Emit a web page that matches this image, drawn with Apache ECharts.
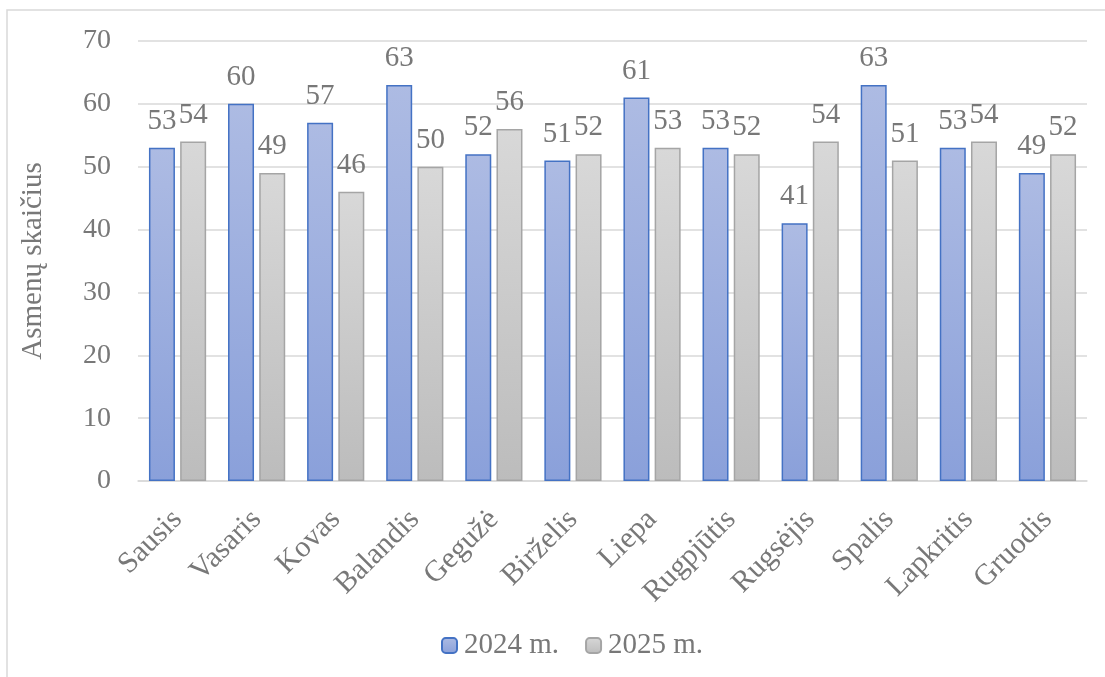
<!DOCTYPE html>
<html><head><meta charset="utf-8">
<script src="https://cdn.jsdelivr.net/npm/echarts@6/dist/echarts.min.js"></script>
<style>html,body{margin:0;padding:0;background:#fff}#c{width:1105px;height:677px}</style>
</head><body><div id="c"></div>
<script>
const categories = ['Sausis','Vasaris','Kovas','Balandis','Gegužė','Birželis','Liepa','Rugpjūtis','Rugsėjis','Spalis','Lapkritis','Gruodis'];
const seriesNames = ['2024 m.','2025 m.'];
const values2024 = [53,60,57,63,52,51,61,53,41,63,53,49];
const values2025 = [54,49,46,50,56,52,53,52,54,51,54,52];
const yTicks = {min:0, max:70, interval:10};

const FONT = '"Liberation Serif","Times New Roman",serif';
const TXT = '#787878';
const chart = echarts.init(document.getElementById('c'));
const grad = (a,b)=>new echarts.graphic.LinearGradient(0,0,0,1,[{offset:0,color:a},{offset:1,color:b}]);
chart.setOption({
  animation:false,
  textStyle:{fontFamily:FONT},
  graphic:[{type:'rect',shape:{x:7,y:10,width:1120,height:700},style:{fill:'none',stroke:'#d9d9d9',lineWidth:1.5},silent:true}],
  grid:{left:138,right:18,top:41,bottom:196},
  legend:{top:626,left:436,itemWidth:15,itemHeight:15,itemGap:26,
    textStyle:{fontFamily:FONT,fontSize:29,color:TXT,padding:[0,0,0,2]},data:seriesNames},
  xAxis:{type:'category',data:categories,
    axisLine:{lineStyle:{color:'#d9d9d9',width:1.5}},axisTick:{show:false},
    axisLabel:{rotate:45,fontFamily:FONT,fontSize:30,color:TXT,margin:34,interval:0}},
  yAxis:{type:'value',min:yTicks.min,max:yTicks.max,interval:yTicks.interval,
    name:'Asmenų skaičius',nameLocation:'middle',nameGap:90,nameRotate:90,
    nameTextStyle:{fontFamily:FONT,fontSize:29,color:TXT},
    axisLine:{show:false},axisTick:{show:false},
    axisLabel:{fontFamily:FONT,fontSize:28,color:TXT,margin:27},
    splitLine:{lineStyle:{color:'#d9d9d9',width:1.5}}},
  series:[
    {name:seriesNames[0],type:'bar',data:values2024,barWidth:26,barGap:'20%',
     itemStyle:{color:grad('#adbbe3','#8aa0da'),borderColor:'#4472c4',borderWidth:1.5},
     label:{show:true,position:'top',distance:12,fontFamily:FONT,fontSize:29,color:TXT}},
    {name:seriesNames[1],type:'bar',data:values2025,barWidth:26,
     itemStyle:{color:grad('#d8d8d8','#bcbcbc'),borderColor:'#a5a5a5',borderWidth:1.5},
     label:{show:true,position:'top',distance:12,fontFamily:FONT,fontSize:29,color:TXT}}
  ]
});
</script></body></html>
